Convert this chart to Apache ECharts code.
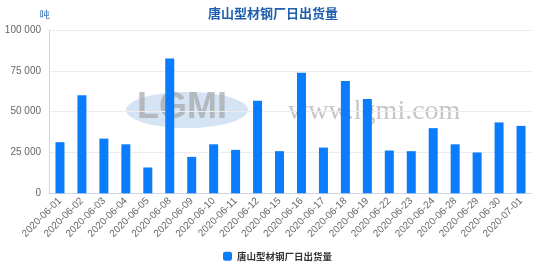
<!DOCTYPE html>
<html><head><meta charset="utf-8">
<script src="https://cdn.jsdelivr.net/npm/echarts@6/dist/echarts.min.js"></script>
<style>html,body{margin:0;padding:0;background:#fff}#c{width:553px;height:266px}</style>
</head><body><div id="c"></div>
<script>
const categories = ['2020-06-01','2020-06-02','2020-06-03','2020-06-04','2020-06-05','2020-06-08','2020-06-09','2020-06-10','2020-06-11','2020-06-12','2020-06-15','2020-06-16','2020-06-17','2020-06-18','2020-06-19','2020-06-22','2020-06-23','2020-06-24','2020-06-28','2020-06-29','2020-06-30','2020-07-01'];
const values = [31300,60100,33500,30000,15800,82600,22300,30000,26600,56600,25800,73800,28000,68700,57700,26200,25800,39900,30000,25000,43400,41300];
const seriesName = '唐山型材钢厂日出货量';
const titleText = '唐山型材钢厂日出货量';
const unitText = '吨';

const chart = echarts.init(document.getElementById('c'));
const fmt = v => String(v).replace(/\B(?=(\d{3})+(?!\d))/g, ' ');
chart.setOption({
  animation:false,
  title:{text:titleText,left:203,top:2,textStyle:{color:'#1f5fae',fontSize:13,fontWeight:'bold',fontFamily:'Noto Sans CJK SC'}},
  graphic:[
    {type:'ellipse',z:-1,shape:{cx:187,cy:110,rx:61,ry:18},style:{fill:'rgba(160,195,230,0.45)'}},
    {type:'text',z:-1,left:137,top:90,style:{text:'LGMI',font:'bold 36px Liberation Sans',fill:'rgba(165,165,165,0.7)'}},
    {type:'text',z:-1,left:288,top:98,style:{text:'www.lgmi.com',font:'28px Liberation Serif',fill:'rgba(150,150,150,0.55)'}}
  ],
  legend:{bottom:0,left:218,itemWidth:9,itemHeight:9,itemGap:6,icon:'roundRect',textStyle:{color:'#333',fontWeight:'bold',fontSize:9.5,fontFamily:'Noto Sans CJK SC'},data:[seriesName]},
  grid:{left:49,right:21,top:30,bottom:72.7},
  xAxis:{type:'category',data:categories,
    axisLine:{lineStyle:{color:'#ccd6eb'}},
    axisTick:{lineStyle:{color:'#ccd6eb'},length:8},
    axisLabel:{rotate:45,color:'#666',fontSize:10,interval:0,margin:6,fontFamily:'Liberation Sans'}},
  yAxis:{type:'value',min:0,max:100000,interval:25000,name:unitText,
    nameLocation:'end',nameGap:10,nameTextStyle:{color:'#1f5fae',fontSize:10,align:'center',padding:[0,8,0,0]},
    axisLine:{show:true,lineStyle:{color:'#ccd6eb'}},
    axisTick:{show:false},
    splitLine:{lineStyle:{color:'#ececec'}},
    axisLabel:{color:'#666',fontSize:10,formatter:v=>fmt(v),fontFamily:'Liberation Sans'}},
  series:[{name:seriesName,type:'bar',data:values,barWidth:9,itemStyle:{color:'#0a7cfc'}}]
});
</script></body></html>
